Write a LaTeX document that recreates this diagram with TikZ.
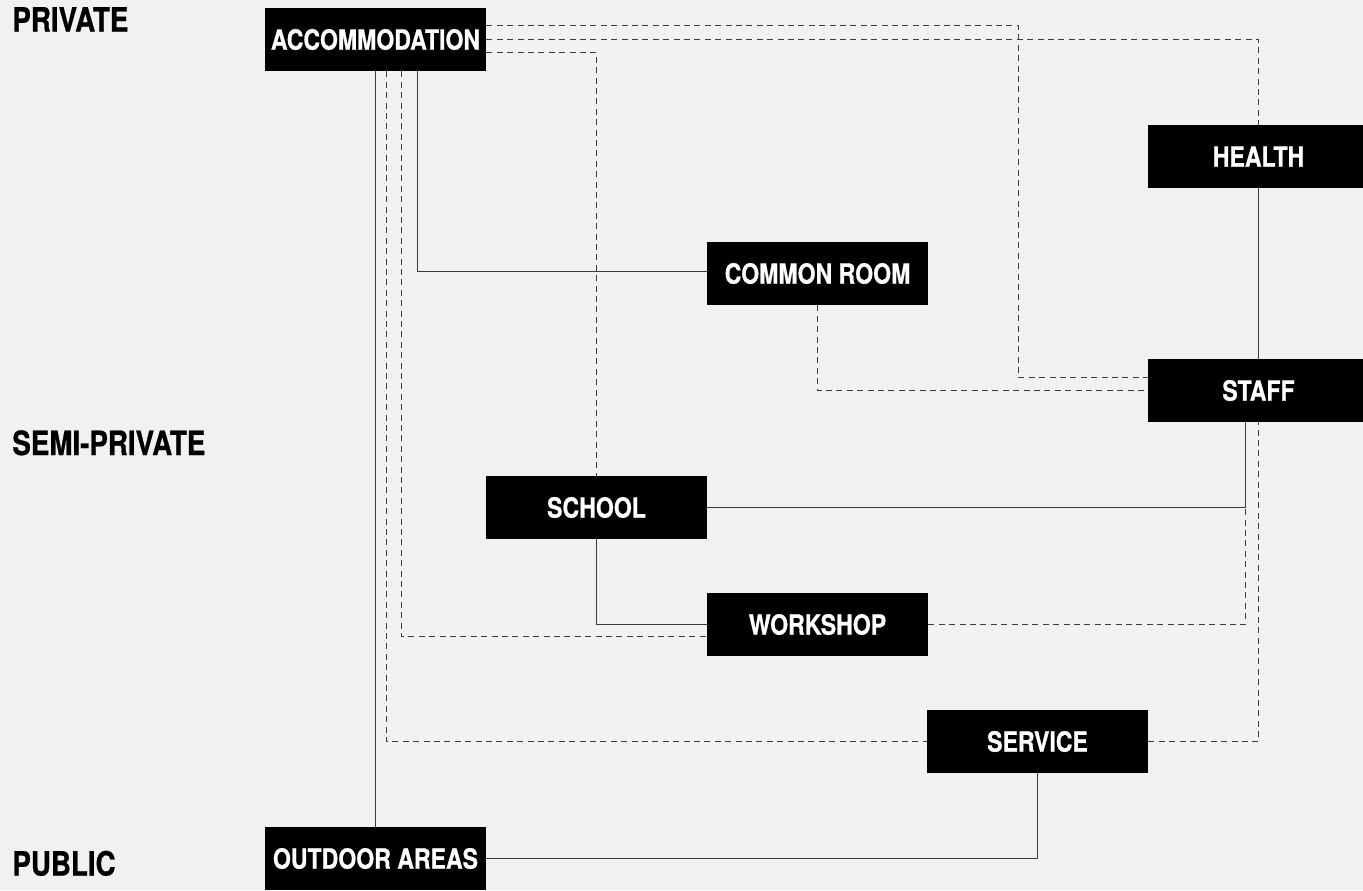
\documentclass[tikz,border=0pt]{standalone}
\usepackage{fontspec}
\newfontfamily\cnfont{TeX Gyre Heros}[FakeStretch=0.83, BoldFeatures={FakeBold=0.8}]
\definecolor{bggray}{HTML}{F1F1F1}
\definecolor{linegray}{HTML}{3C3C3C}
\begin{document}
\begin{tikzpicture}[x=0.5pt, y=-0.5pt,
    room/.style={fill=black, text=white, minimum width=110.5pt, minimum height=31.5pt,
        inner sep=0pt, font=\cnfont\bfseries\fontsize{13.9}{16}\selectfont},
    zone/.style={anchor=base west, inner sep=0pt, font=\cnfont\bfseries\fontsize{16.7}{19}\selectfont},
    link/.style={linegray, line width=0.65pt},
    weak/.style={link, dash pattern=on 3pt off 2.2pt}]
    % background
    \fill[bggray] (0,0) rectangle (1363,890);
    \useasboundingbox (0,0) rectangle (1363,890);
    \clip (0,0) rectangle (1363,890);
    % zones
    \node[zone] (private) at (12,31.5) {PRIVATE};
    \node[zone] (semi) at (12,455) {SEMI-PRIVATE};
    \node[zone] (public) at (12,875.5) {PUBLIC};
    % rooms
    \node[room] (acc) at (375.5,39.5) {ACCOMMODATION};
    \node[room] (health) at (1258.5,156.5) {HEALTH};
    \node[room] (common) at (817.5,273.5) {COMMON ROOM};
    \node[room] (staff) at (1258.5,390.5) {STAFF};
    \node[room] (school) at (596.5,507.5) {SCHOOL};
    \node[room] (workshop) at (817.5,624.5) {WORKSHOP};
    \node[room] (service) at (1037.5,741.5) {SERVICE};
    \node[room] (outdoor) at (375.5,858.5) {OUTDOOR AREAS};
    % strong links
    \draw[link] (acc.south) -- (outdoor.north);
    \draw[link] ([xshift=21pt]acc.south) |- ([yshift=1pt]common.west);
    \draw[link] (health.south) -- (staff.north);
    \draw[link] (school.east) -| ([xshift=-6.5pt]staff.south);
    \draw[link] (school.south) |- (workshop.west);
    \draw[link] (service.south) |- (outdoor.east);
    % weak links
    \draw[weak] ([yshift=7pt]acc.east) -- ++(532,0) |- ([yshift=6.5pt]staff.west);
    \draw[weak] (acc.east) -| (health.north);
    \draw[weak] ([yshift=-6.5pt]acc.east) -| (school.north);
    \draw[weak] ([xshift=5.5pt]acc.south) |- (service.west);
    \draw[weak] ([xshift=13pt]acc.south) |- ([yshift=-6pt]workshop.west);
    \draw[weak] (common.south) |- (staff.west);
    \draw[weak] (workshop.east) -| ([xshift=-6.5pt]staff.south);
    \draw[weak] (service.east) -| (staff.south);
\end{tikzpicture}
\end{document}
